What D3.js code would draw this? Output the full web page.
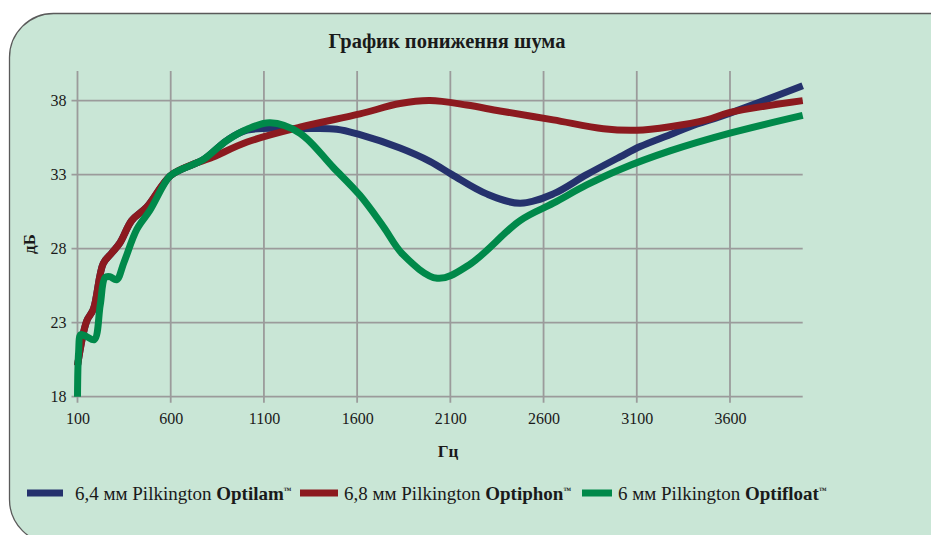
<!DOCTYPE html>
<html><head><meta charset="utf-8">
<script src="https://cdn.jsdelivr.net/npm/d3@7"></script>
<style>
html,body{margin:0;padding:0;background:#fff;}
svg{display:block;}
svg text, svg tspan{font-family:"Liberation Serif","DejaVu Serif",serif;fill:#1a1a1a;}
</style></head>
<body>
<svg id="chart" width="931" height="535"></svg>
<script>
const title = "График пониження шума";
const xLabel = "Гц";
const yLabel = "дБ";
const xTicks = [100, 600, 1100, 1600, 2100, 2600, 3100, 3600];
const yTicks = [18, 23, 28, 33, 38];

const seriesNames = ["6,4 мм Pilkington ", "6,8 мм Pilkington ", "6 мм Pilkington "];
const seriesBold = ["Optilam", "Optiphon", "Optifloat"];
const seriesColors = ["#25326d", "#8c1a1f", "#00894a"];

const freqOptilam = [100,149,185,238,283,328,391,471,596,666,773,900,1010,1293,1490,1615,1830,1990,2109,2295,2474,2652,2831,3010,3118,3278,3385,3600,3990];
const dbOptilam   = [20.1,23.1,23.9,27.0,27.7,28.4,29.9,30.8,32.9,33.4,34.0,35.3,36.0,36.1,36.07,35.7,34.8,33.9,33.0,31.7,31.07,31.7,33.0,34.2,34.9,35.7,36.24,37.15,39.0];

const freqOptiphon = [100,149,185,238,283,328,391,471,596,720,811,1010,1293,1615,1830,1990,2188,2366,2652,2921,3100,3278,3475,3600,3990];
const dbOptiphon   = [20.1,23.1,23.9,27.0,27.7,28.4,29.9,30.8,32.9,33.7,34.1,35.2,36.2,37.1,37.8,38.0,37.7,37.3,36.7,36.1,36.0,36.24,36.7,37.2,38.0];

const freqOptifloat = [100,106,118,150,190,222,248,275,310,350,418,489,596,666,773,900,1010,1133,1293,1471,1615,1740,1846,2030,2200,2474,2652,2831,3010,3278,3600,3990];
const dbOptifloat   = [18,21,22.2,22.05,21.85,24.2,26.05,26.1,25.9,27.1,29.3,30.6,32.9,33.4,34.0,35.3,36.07,36.5,35.8,33.5,31.6,29.5,27.6,26.0,26.9,29.9,31.07,32.3,33.35,34.6,35.8,37.0];

const svg = d3.select("#chart");
const serif = "Liberation Serif";

svg.append("rect")
  .attr("x", 9.5).attr("y", 13.5)
  .attr("width", 1000).attr("height", 530)
  .attr("rx", 44).attr("ry", 44)
  .attr("fill", "#c9e6d6")
  .attr("stroke", "#5a5a5a").attr("stroke-width", 1.3);

const x = d3.scaleLinear().domain([100, 3990]).range([77.5, 802.7]);
const y = d3.scaleLinear().domain([18, 40]).range([396.7, 71]);

const gridColor = "#9b9b9b";

svg.append("g").selectAll("line").data(yTicks).join("line")
  .attr("x1", x(100) - 6).attr("x2", x(3990))
  .attr("y1", d => y(d)).attr("y2", d => y(d))
  .attr("stroke", gridColor).attr("stroke-width", 1.8);

svg.append("g").selectAll("line").data(xTicks).join("line")
  .attr("x1", d => x(d)).attr("x2", d => x(d))
  .attr("y1", y(40)).attr("y2", y(18) + 6)
  .attr("stroke", gridColor).attr("stroke-width", 1.8);

const yAxis = d3.axisLeft(y).tickValues(yTicks).tickSize(0).tickPadding(11);
const gy = svg.append("g").attr("transform", `translate(${x(100)},0)`).call(yAxis);
gy.select(".domain").remove();
gy.selectAll("text").attr("font-size", 16).attr("font-family", serif).attr("fill", "#1a1a1a");

const xAxis = d3.axisBottom(x).tickValues(xTicks).tickSize(0).tickPadding(16).tickFormat(d3.format("d"));
const gx = svg.append("g").attr("transform", `translate(0,${y(18)})`).call(xAxis);
gx.select(".domain").remove();
gx.selectAll("text").attr("font-size", 16).attr("font-family", serif).attr("fill", "#1a1a1a");

svg.append("text").attr("x", 447).attr("y", 48).attr("text-anchor", "middle").attr("font-family", serif)
  .attr("font-size", 20.5).attr("font-weight", "bold").text(title);
svg.append("text").attr("x", 448).attr("y", 457).attr("text-anchor", "middle").attr("font-family", serif)
  .attr("font-size", 17).attr("font-weight", "bold").text(xLabel);
svg.append("text").attr("transform", "translate(35,244) rotate(-90)").attr("text-anchor", "middle").attr("font-family", serif)
  .attr("font-size", 17).attr("font-weight", "bold").text(yLabel);

const line = d3.line().x(d => x(d[0])).y(d => y(d[1])).curve(d3.curveCatmullRom.alpha(0.5));
const series = [
  d3.zip(freqOptilam, dbOptilam),
  d3.zip(freqOptiphon, dbOptiphon),
  d3.zip(freqOptifloat, dbOptifloat)
];
svg.append("g").selectAll("path").data(series).join("path")
  .attr("d", line)
  .attr("fill", "none")
  .attr("stroke", (d, i) => seriesColors[i])
  .attr("stroke-width", 7)
  .attr("stroke-linejoin", "round");

const legendX = [27, 300, 582];
const legendSw = [36, 38, 30];
const legendTextX = [75, 344, 618];
const lg = svg.append("g");
seriesNames.forEach((name, i) => {
  lg.append("rect").attr("x", legendX[i]).attr("y", 489.5).attr("width", legendSw[i]).attr("height", 7)
    .attr("fill", seriesColors[i]);
  const t = lg.append("text").attr("x", legendTextX[i]).attr("y", 500)
    .attr("font-size", 19).attr("font-family", serif);
  t.append("tspan").attr("font-family", serif).text(name);
  t.append("tspan").attr("font-family", serif).attr("font-weight", "bold").text(seriesBold[i]);
  t.append("tspan").attr("font-family", serif).attr("font-size", 8).attr("font-weight", "bold").attr("dy", -7).text("™");
});
</script>
</body></html>
